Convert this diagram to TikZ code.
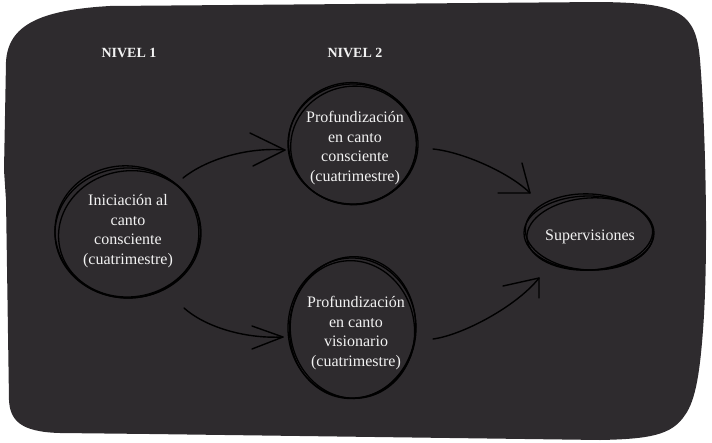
\documentclass[tikz,border=0pt]{standalone}
\usepackage{fontspec}
\setmainfont{Liberation Serif}
\usetikzlibrary{calc,shapes.geometric}
\definecolor{bgc}{RGB}{46,43,46}
\definecolor{txt}{RGB}{242,242,242}
\begin{document}
\begin{tikzpicture}[x=1pt,y=-1pt,
  lab/.style={text=txt,font=\fontsize{16}{19.5}\selectfont,align=center,inner sep=0pt},
  head/.style={text=txt,font=\bfseries\fontsize{14}{16}\selectfont,inner sep=0pt},
  ring/.style={draw=black,line width=1.3pt},
  conn/.style={draw=black,line width=1.4pt,line cap=round,line join=round}]
\useasboundingbox (0,0) rectangle (712,442);
% background blob
\fill[bgc] (6,62) .. controls (8,25) and (40,10) .. (110,6)
  -- (600,2) .. controls (680,3) and (696,12) .. (700,60)
  .. controls (705,120) and (709,250) .. (703,330)
  .. controls (700,370) and (696,400) .. (685,415)
  .. controls (672,435) and (650,439) .. (600,440)
  -- (150,434) -- (60,433) .. controls (20,432) and (10,420) .. (9,400)
  -- (6,200) -- (4,170) -- cycle;
% headings
\node[head] (n1) at (129,53) {NIVEL 1};
\node[head] (n2) at (355,53) {NIVEL 2};
% nodes
\node[lab] (c1) at (128,231) {Iniciación al\\canto\\consciente\\(cuatrimestre)};
\node[lab] (c2) at (355,148) {Profundización\\en canto\\consciente\\(cuatrimestre)};
\node[lab] (c3) at (356,333) {Profundización\\en canto\\visionario\\(cuatrimestre)};
\node[lab] (s) at (590,237) {Supervisiones};
% sketchy rings
\draw[ring] ($(c1)+(0,2)$) ellipse [x radius=73, y radius=65];
\draw[ring,rotate around={8:($(c1)+(1,3)$)}] ($(c1)+(1,3)$) ellipse [x radius=71, y radius=63];
\draw[ring,rotate around={-6:($(c1)+(-1,1)$)}] ($(c1)+(-1,1)$) ellipse [x radius=72, y radius=66];
\draw[ring] ($(c2)+(-2,-4)$) ellipse [x radius=65, y radius=60];
\draw[ring,rotate around={10:($(c2)+(-1,-3)$)}] ($(c2)+(-1,-3)$) ellipse [x radius=63, y radius=59];
\draw[ring,rotate around={-7:($(c2)+(-3,-4)$)}] ($(c2)+(-3,-4)$) ellipse [x radius=64, y radius=61];
\draw[ring] ($(c3)+(-4,-5)$) ellipse [x radius=64, y radius=70];
\draw[ring,rotate around={9:($(c3)+(-3,-4)$)}] ($(c3)+(-3,-4)$) ellipse [x radius=62, y radius=69];
\draw[ring,rotate around={-6:($(c3)+(-4,-5)$)}] ($(c3)+(-4,-5)$) ellipse [x radius=63, y radius=71];
\draw[ring] ($(s)+(-1,-4)$) ellipse [x radius=65, y radius=37];
\draw[ring,rotate around={4:($(s)+(0,-3)$)}] ($(s)+(0,-3)$) ellipse [x radius=63, y radius=36];
\draw[ring,rotate around={-3:($(s)+(-1,-5)$)}] ($(s)+(-1,-5)$) ellipse [x radius=64, y radius=38];
% connectors
\draw[conn] ($(c1)+(55,-53)$) .. controls +(25,-20) and +(-35,-3) .. ($(c2)+(-70,2)$) coordinate (t1);
\draw[conn] ($(t1)+(-35,-17)$) -- (t1) -- +(-32,16);
\draw[conn] ($(c2)+(78,1)$) .. controls +(30,3) and +(-20,-20) .. ($(s)+(-60,-44)$) coordinate (t2);
\draw[conn] ($(t2)+(-8,-30)$) -- (t2) -- +(-32,0);
\draw[conn] ($(c1)+(56,77)$) .. controls +(20,18) and +(-40,2) .. ($(c3)+(-73,4)$) coordinate (t3);
\draw[conn] ($(t3)+(-31,-11)$) -- (t3) -- +(-31,12);
\draw[conn] ($(c3)+(77,6)$) .. controls +(30,-4) and +(-22,28) .. ($(s)+(-51,41)$) coordinate (t4);
\draw[conn] ($(t4)+(-36,8)$) -- (t4) -- +(0,20);
\end{tikzpicture}
\end{document}
